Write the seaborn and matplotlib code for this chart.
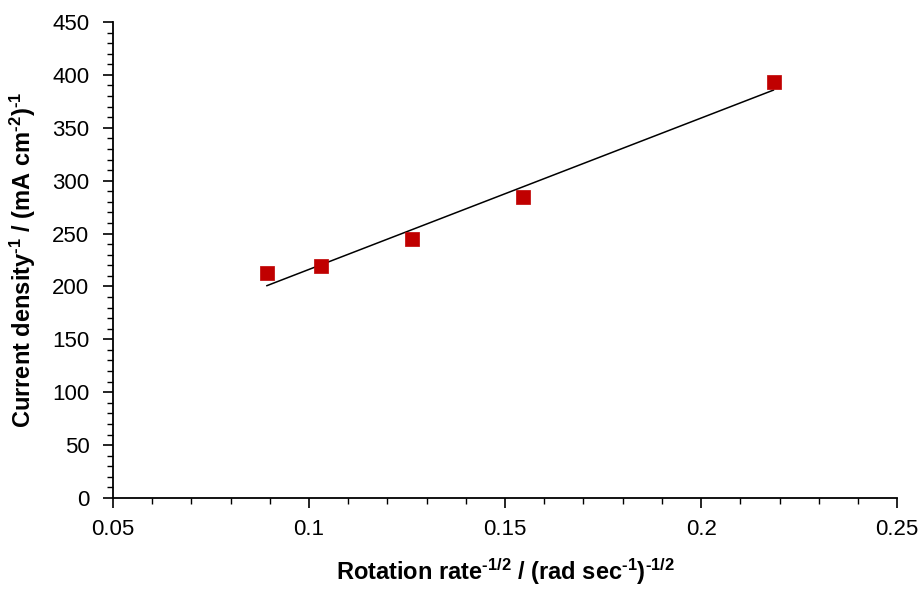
import numpy as np
import pandas as pd
import seaborn as sns
import matplotlib.pyplot as plt
from matplotlib.ticker import MultipleLocator

# rotation rate^-1/2 vs inverse current density (Koutecky-Levich)
rotation = [0.0892, 0.1030, 0.1262, 0.1545, 0.2185]
inv_current = [212.7, 219.3, 244.8, 284.5, 393.2]
x_ticks = [0.05, 0.10, 0.15, 0.20, 0.25]
x_labels = ["0.05", "0.1", "0.15", "0.2", "0.25"]

df = pd.DataFrame({"x": rotation, "y": inv_current})

sns.set_style("ticks")
plt.rcParams['font.family'] = ['Liberation Sans Narrow', 'Liberation Sans', 'DejaVu Sans']
plt.rcParams['mathtext.fontset'] = 'custom'
plt.rcParams['mathtext.rm'] = 'Liberation Sans:bold'
plt.rcParams['mathtext.default'] = 'rm'
plt.rcParams['text.color'] = 'black'
plt.rcParams['axes.labelcolor'] = 'black'
plt.rcParams['xtick.labelcolor'] = 'black'
plt.rcParams['ytick.labelcolor'] = 'black'

fig = plt.figure(figsize=(9.23, 5.89), dpi=100)
ax = fig.add_axes([0.1224, 0.1545, 0.8496, 0.8081])

# linear trend line over the data range
sns.regplot(data=df, x="x", y="y", scatter=False, ci=None, truncate=True,
            line_kws={"color": "black", "lw": 1.1}, ax=ax)
sns.scatterplot(data=df, x="x", y="y", marker="s", s=110, color="#C00000",
                edgecolor="#C00000", linewidth=0.5, zorder=3, ax=ax)

ax.set_xlim(0.05, 0.25)
ax.set_ylim(0, 450)
ax.set_xticks(x_ticks, x_labels)
ax.xaxis.set_minor_locator(MultipleLocator(0.01))
ax.yaxis.set_major_locator(MultipleLocator(50))
ax.yaxis.set_minor_locator(MultipleLocator(10))
ax.tick_params(which="major", length=7, width=1.2, labelsize=16, color="black",
               labelcolor="black")
ax.tick_params(which="minor", length=4, width=1.0, color="black")
ax.tick_params(axis="x", pad=8)
ax.tick_params(axis="y", pad=10)

for side in ["top", "right"]:
    ax.spines[side].set_visible(False)
for side in ["left", "bottom"]:
    ax.spines[side].set_color("black")
    ax.spines[side].set_linewidth(1.3)

ax.set_xlabel(r"Rotation rate$^{\text{-1/2}}$ / (rad sec$^{\text{-1}}$)$^{\text{-1/2}}$",
              fontsize=17, fontweight="bold", labelpad=12, color="black")
ax.set_ylabel(r"Current density$^{\text{-1}}$ / (mA cm$^{\text{-2}}$)$^{\text{-1}}$",
              fontsize=17, fontweight="bold", labelpad=10, color="black")

fig.savefig("out.png", dpi=100)
